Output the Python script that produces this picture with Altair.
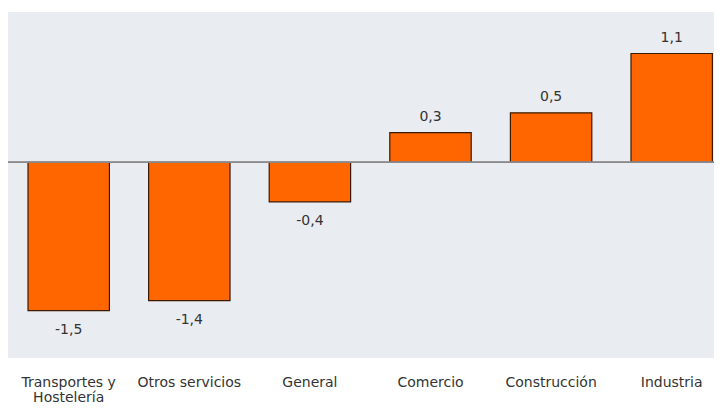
import altair as alt
import pandas as pd

categories = ["Transportes y\nHostelería", "Otros servicios", "General", "Comercio", "Construcción", "Industria"]
values = [-1.5, -1.4, -0.4, 0.3, 0.5, 1.1]
labels = ["-1,5", "-1,4", "-0,4", "0,3", "0,5", "1,1"]

df = pd.DataFrame({"cat": categories, "val": values, "lab": labels})

FONT = "DejaVu Sans"
YDOM = [-1.98, 1.52]

x = alt.X("cat:N", sort=categories, title=None,
          scale=alt.Scale(paddingInner=0.325, paddingOuter=0.0896, align=0.926),
          axis=alt.Axis(labelAngle=0, domain=False, ticks=False, labelPadding=17,
                        labelFontSize=14, labelColor="#333333", labelFont=FONT,
                        labelExpr="split(datum.label, '\\n')", labelLineHeight=15))
y = alt.Y("val:Q", title=None, scale=alt.Scale(domain=YDOM, nice=False, zero=False),
          axis=None)

base = alt.Chart(df)

bars = base.mark_bar(color="#FF6600", stroke="#3a1a00", strokeWidth=1.2).encode(x=x, y=y)

rule = base.transform_calculate(z="0").mark_rule(color="#8a8a8a", strokeWidth=1).encode(
    y=alt.Y("z:Q", scale=alt.Scale(domain=YDOM, nice=False, zero=False), axis=None))

txt_pos = base.transform_filter("datum.val >= 0").mark_text(
    dy=-16, fontSize=14, color="#333333", font=FONT).encode(x=x, y=y, text="lab:N")
txt_neg = base.transform_filter("datum.val < 0").mark_text(
    dy=19, fontSize=14, color="#333333", font=FONT).encode(x=x, y=y, text="lab:N")

chart = alt.layer(bars, rule, txt_pos, txt_neg).properties(
    width=706, height=346,
    padding={"left": 0, "top": 4, "right": 0, "bottom": 46},
    autosize=alt.AutoSizeParams(type="none"),
    background="white",
).configure_view(fill="#E9ECF0", strokeWidth=0)

chart.save("out.html", embed_options={"renderer": "svg", "actions": False})
